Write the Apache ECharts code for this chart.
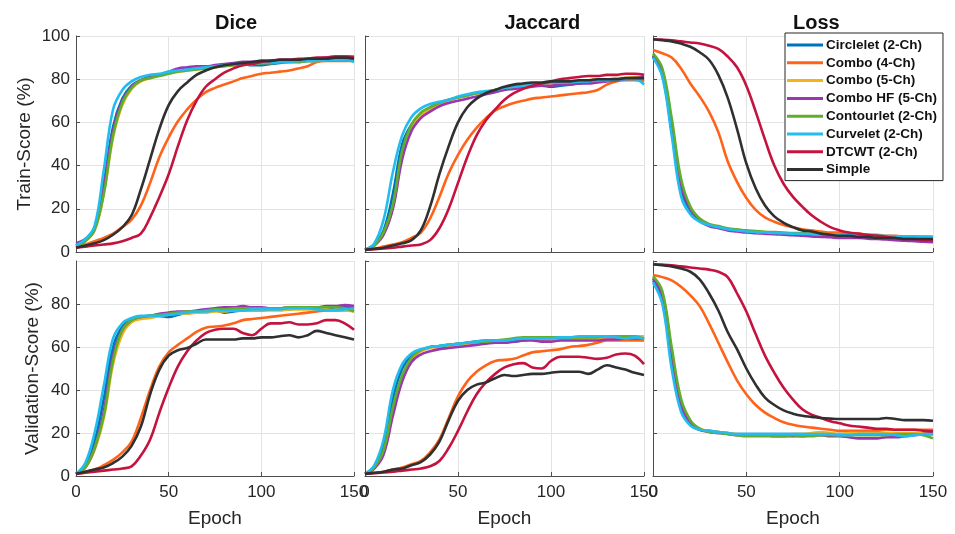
<!DOCTYPE html>
<html>
<head>
<meta charset="utf-8">
<script src="https://cdn.jsdelivr.net/npm/echarts@6/dist/echarts.min.js"></script>
<style>
html,body{margin:0;padding:0;background:#fff}
#chart{width:955px;height:534px}
</style>
</head>
<body>
<div id="chart"></div>
<script>
// epochs sampled every 5
var epochs = [0,5,10,15,20,25,30,35,40,45,50,55,60,65,70,75,80,85,90,95,100,105,110,115,120,125,130,135,140,145,150];

var methods = ['Circlelet (2-Ch)','Combo (4-Ch)','Combo (5-Ch)','Combo HF (5-Ch)','Contourlet (2-Ch)','Curvelet (2-Ch)','DTCWT (2-Ch)','Simple'];
var colors = ['#0072BD','#FF6319','#F5B31B','#9A36B0','#5FAE2E','#22BDEE','#C4133F','#303030'];
var colTitles = ['Dice','Jaccard','Loss'];
var rowNames = ['Train-Score (%)','Validation-Score (%)'];

// ---- Train: Dice
var trainDice_circlelet = [3,5.5,11,32,58,71,77,79.5,81,82,83,84,84.5,85,85.5,86,86.5,87,87,86.5,86.5,87,87.5,88,88,88.5,88.5,89,89,89,89];
var trainDice_combo4 = [2.5,3.5,5,6.5,8.5,11.5,15,21.5,32,44,53,60.5,66,70.5,74,76,77.5,79,80.5,81.5,82.5,83,83.5,84,85,86,88,88.5,88.5,88.5,88.5];
var trainDice_combo5 = [3,5,10,27,53,68,75.5,79,80.5,82,83,83.5,84,84.5,85,85.5,86,86.5,86.5,87,87.5,87.5,88,88,88,88.5,88.5,89,89,89,89];
var trainDice_comboHF = [4,6,11,30,56,70,76.5,79.5,81,82,83.5,85,85.5,86,86,86.5,87,87.5,88,88,88.5,88.5,89,89,89,89.5,89.5,90,90.5,90.5,90.5];
var trainDice_contourlet = [2.5,5,10,27,54,69,76,79.5,80.5,81.5,82.5,83.5,84,84.5,85,85.5,86,86.5,87,87,87.5,87.5,88,88,88,88.5,88.5,89,89,89,89];
var trainDice_curvelet = [3,6,12,38,66,75,79,81,82,82.5,83.5,84,84.5,85,85.5,86,86.5,87,87,87.5,87.5,88,88,88,88.5,88.5,88.5,89,89,89,88];
var trainDice_dtcwt = [2,2.5,3,3.5,4,5,6.5,8.5,16,25.5,36,49,61,70,76.5,80,83,85,86.5,87,88,88.5,89,89,89.5,89.5,90,90,90.5,90.5,90];
var trainDice_simple = [2,3,4,5.5,8,11.5,17,29,43,57,68,74.5,78.5,82,84,85.5,86.5,87,87.5,88,88.5,88.5,89,89,89,89.5,89.5,89.5,90,90,89.5];

// ---- Train: Jaccard
var trainJac_circlelet = [1,3.5,10,27,50,59,64,67,69,70.5,71.5,72.5,73.5,74,75,75.5,76,76.5,77,77,76.5,77,77.5,78,78.5,79,79.5,80,80,80,80];
var trainJac_combo4 = [1,1.5,2.5,3.5,4.5,6.5,9,15.5,25.5,36.5,45,52,57.5,62,65.5,67.5,69,70,71,71.5,72,72.5,73,73.5,74,75,77.5,79,79.5,79.5,79];
var trainJac_combo5 = [1,3,8.5,21,45,57.5,63.5,66,68.5,70,71.5,72.5,73.5,74,75,76,76.5,77,77.5,78,78,78.5,79,79,79.5,80,80,80.5,80.5,81,81];
var trainJac_comboHF = [1,3,8,20,43,56,62,65,67.5,69,70,71,72,73,74,75,75.5,76,76.5,77,77,77.5,77.5,78,78,78.5,79,79.5,80,80.5,81];
var trainJac_contourlet = [1,3,9,22,47,59,64.5,67,69,70.5,71.5,72.5,73.5,74,75,76,76.5,77,77.5,78,78.5,78.5,79,79,79.5,79.5,80,80,80.5,80.5,80];
var trainJac_curvelet = [1,4,15,37,54,62.5,66.5,68.5,69.5,70.5,72,73,74,74.5,75,76,76.5,77,77.5,78,78.5,78.5,78.5,79,79,79.5,79.5,80,80,80,77.5];
var trainJac_dtcwt = [1,1.3,1.6,2,2.5,3,3.5,5.5,11,20,32,44,54,61,66,70.5,73.5,75.5,77,78,79,80,80.5,81,81.5,81.5,82,82,82.5,82.5,82];
var trainJac_simple = [1,1.5,2,3,4,5.5,10,21,36,49,60,67,71,73.5,75,76.5,77.5,78,78.5,78.5,79,79,79,79.5,79.5,80,80,80,80.5,80.5,80.5];

// ---- Train: Loss
var trainLoss_circlelet = [90.5,82,56,29,19,14.5,12.5,11.5,10.5,10,9.5,9.2,9,8.8,8.6,8.4,8.2,8,7.9,7.8,7.7,7.6,7.5,7.4,7.3,7.2,7.1,7,7,6.9,6.8];
var trainLoss_combo4 = [93.5,92,90,85,78,72,65,55.5,42,32.5,25,19.5,16,14,12.5,11.5,10.5,10,9.5,9,9,8.5,8.5,8,8,7.5,7.5,7,7,7,7];
var trainLoss_combo5 = [91.5,84,60,32,20.5,15,12.5,11.5,10.5,10,9.5,9.3,9,8.8,8.6,8.4,8.2,8,7.8,7.6,7.5,7.4,7.3,7.2,7,7,6.8,6.7,6.5,6.5,6.5];
var trainLoss_comboHF = [91,83,58,31,20,14.5,12,11,10,9.5,9,8.7,8.5,8.2,8,7.8,7.5,7.2,7,6.8,6.5,6.5,6.5,6.2,6,5.8,5.5,5.2,5,4.8,4.5];
var trainLoss_contourlet = [92,85,62,34,21,15.5,13,12,11,10.5,10,9.7,9.4,9.2,9,8.8,8.7,8.5,8.4,8.2,8,7.9,7.8,7.6,7.5,7.3,7.2,7,7,6.9,6.8];
var trainLoss_curvelet = [90,81,54,26,17.5,14,12.5,11.5,10.5,10,9.5,9.2,9,8.8,8.7,8.5,8.4,8.3,8.2,8.1,8,7.9,7.7,7.6,7.5,7.4,7.3,7.2,7,7,7];
var trainLoss_dtcwt = [98.5,98.3,98,97.5,97,96.5,95.5,94,90.5,85.5,77,65,52,40,31.5,25.5,21,17,14,11.5,10,9,8.5,8,7.5,7,6.5,6,6,5.5,5.5];
var trainLoss_simple = [98.5,98,97.5,96.5,95,92.5,89,82,71.5,57,41,29.5,21.5,16.5,13.5,11.5,10,9.5,8.5,8,7.5,7.5,7,7,6.5,6.5,6.5,6,6,6,6];

// ---- Validation: Dice
var valDice_circlelet = [1,5,16,36,60,69.5,73,74,74.5,74.5,74,75,76,76.5,76.5,77,76,76.5,77,77,77,77.5,77.5,77.5,78,78,78,78,78.5,78.5,78];
var valDice_combo4 = [1,2,3,5,7.5,11,16,27,40,51,57.5,61,64,67,69,69.5,70,71,72.5,73,73.5,74,74.5,75,75.5,76,76.5,77,77,77,77];
var valDice_combo5 = [1,4,12,27,52,66,71.5,73,73.5,74.5,75,75.5,75.5,76,76,76.5,76.5,77,77,77,77,77,77,77.5,77.5,77.5,77.5,77.5,77,77,76.5];
var valDice_comboHF = [1,4,13,30,56,68,72.5,74,74.5,75.5,76,76.5,76.5,77,77.5,78,78.5,78.5,79,78.5,78.5,78,78,78.5,78.5,78.5,78.5,79,79,79.5,79];
var valDice_contourlet = [1,4,13,28,54,68,72.5,74,74.5,75,75.5,76,76.5,76.5,77,77.5,77.5,78,78,78,78,78,78,78.5,78.5,78.5,78.5,78.5,78.5,78,76.5];
var valDice_curvelet = [1,6,20,42,64,71,73.5,74.5,74.5,74.5,75,75.5,76,76.5,76.5,77,77,77,77,77.5,77.5,77.5,77.5,78,78,78,77.5,77,77,77.5,78];
var valDice_dtcwt = [1,1.5,2,2.5,3,3.5,4.5,9.5,17,29.5,41,51,58,63,66.5,68,68.5,68.5,66.5,65.5,68.5,71,71,71.5,70.5,70.5,71,72.5,72.5,71,68];
var valDice_simple = [1,2,3,4,6,9,14,23,38,49.5,56,58.5,59.5,61.5,63.5,63.5,63.5,63.5,64,64,64.5,64.5,65,65.5,64.5,65.5,67.5,66.5,65.5,64.5,63.5];

// ---- Validation: Jaccard
var valJac_circlelet = [1,4.5,14,36,50,56,58.5,60,60.5,61,61.5,62,62.5,63,63,63,62.5,63,63.5,63.5,64,64,64,64.5,64.5,65,65,64.5,64.5,64.5,64];
var valJac_combo4 = [1,1.5,2,3,4,5.5,7,11,17,27,37,44,48.5,51.5,53.5,54,54.5,56,57.5,58,58.5,59,60,60.5,61,62,63,63,63,63,63];
var valJac_combo5 = [1,4,11,30,46,54,58,59.5,60,60.5,61,61.5,62,62.5,62.5,63,63,63.5,63.5,63.5,63.5,63.5,63.5,64,64,64,64.5,64.5,65,65,65];
var valJac_comboHF = [1,3.5,10,28,44,53,56.5,58,59,59.5,60,60.5,61,61.5,62,62,62.5,63,63,62.5,62.5,63,63,63,63,63,63.5,63.5,64,64,64];
var valJac_contourlet = [1,4,12,32,47,55,58.5,60,60.5,61,61.5,62,62.5,62.5,63,63.5,64,64.5,64.5,64.5,64.5,64.5,64.5,64.5,64.5,64.5,65,65,65,65,63.5];
var valJac_curvelet = [1,5,17,40,52,57,59,60,60.5,61,61.5,62,62.5,63,63,63,63.5,64,64,64,64,64.5,64.5,65,65,65,65,64.5,64,64.5,64];
var valJac_dtcwt = [1,1.3,1.6,2,2.5,3,3.5,4.5,7,13,21,30,38,43.5,47.5,50.5,52,52.5,50.5,50,53.5,55.5,55.5,55.5,55,54.5,55,56.5,57,56,52];
var valJac_simple = [1,1.5,2,3,3.5,5,6.5,10,16,26,35,40,42.5,43.5,45.5,47,46.5,47,47.5,47.5,48,48.5,48.5,48.5,47.5,49.5,51.5,50.5,49.5,48,47];

// ---- Validation: Loss
var valLoss_circlelet = [91,82,53,31,24,21.5,21,20.5,20,19.5,19.5,19.5,19.5,19.5,19.5,19.5,19.5,19.5,19.5,19.5,19.5,19.5,19.5,19.5,19.5,19.5,19.5,19.5,19.5,19.5,19.5];
var valLoss_combo4 = [93.5,92.5,91,88,84,79,71,62,53,44.5,38,33,29.5,27,25,23.8,23,22.5,22,21.5,21,21,21,21,21,21.5,21.5,21.5,21.5,21.5,21.5];
var valLoss_combo5 = [92,85,58,34,25,22,21,20.5,20,19.5,19,19,19,19,19,19.5,19.5,20,20.5,20,19.5,20,20,20,20,20,20,20,20,20,20];
var valLoss_comboHF = [92,84,57,33,24.5,21.5,20.5,20,19.5,19,19,19,19,18.5,18.5,18.5,18.5,19,19,18.5,18.5,18,17.5,17.5,17.5,18,18,18.5,19,19.5,20];
var valLoss_contourlet = [93,86,60,36,26,22,20.5,20,19.5,19,18.5,18.5,18.5,18.5,18.5,19,18.5,18.5,19,19,19,19,19,19,19,19,19.5,19.5,19.5,19,17.5];
var valLoss_curvelet = [90,80,50,30,23.5,21.5,21,20.5,20,19.5,19.5,19.5,19.5,19.5,19.5,19.5,19.5,19.5,19.5,19.5,19,19,19.5,19.5,19.5,19.5,19,18.5,19,19.5,19.5];
var valLoss_dtcwt = [98.5,98.3,98,97.5,97,96.5,96,95,92.5,85,76.5,66,56,48,41,35.5,31,28.5,27,25.5,24.5,23.5,23,22.5,22,22,21.5,21.5,21.5,21,20.8];
var valLoss_simple = [98.5,98,97.5,96.5,95,91.5,85,77,67,59,50,42.5,36.5,33,30.5,29,28,27.5,27,26.7,26.5,26.5,26.5,26.5,26.5,27,26.5,26,26,26,25.7];

var panels = [
  [trainDice_circlelet,trainDice_combo4,trainDice_combo5,trainDice_comboHF,trainDice_contourlet,trainDice_curvelet,trainDice_dtcwt,trainDice_simple],
  [trainJac_circlelet,trainJac_combo4,trainJac_combo5,trainJac_comboHF,trainJac_contourlet,trainJac_curvelet,trainJac_dtcwt,trainJac_simple],
  [trainLoss_circlelet,trainLoss_combo4,trainLoss_combo5,trainLoss_comboHF,trainLoss_contourlet,trainLoss_curvelet,trainLoss_dtcwt,trainLoss_simple],
  [valDice_circlelet,valDice_combo4,valDice_combo5,valDice_comboHF,valDice_contourlet,valDice_curvelet,valDice_dtcwt,valDice_simple],
  [valJac_circlelet,valJac_combo4,valJac_combo5,valJac_comboHF,valJac_contourlet,valJac_curvelet,valJac_dtcwt,valJac_simple],
  [valLoss_circlelet,valLoss_combo4,valLoss_combo5,valLoss_comboHF,valLoss_contourlet,valLoss_curvelet,valLoss_dtcwt,valLoss_simple]
];

var chart = echarts.init(document.getElementById('chart'));

var lefts = [76, 365, 653];
var widths = [278, 279, 280];
var tops = [36, 261];
var heights = [216, 215];
var axisCol = '#4d4d4d';
var textCol = '#262626';
var gridCol = '#e3e3e3';
var font = 'Arial, "Liberation Sans", Helvetica, sans-serif';

var grids = [], xAxes = [], yAxes = [], series = [], graphics = [];

for (var p = 0; p < 6; p++) {
  var r = Math.floor(p / 3), c = p % 3;
  grids.push({left: lefts[c], top: tops[r], width: widths[c], height: heights[r]});
  xAxes.push({
    type: 'value', gridIndex: p, min: 0, max: 150, interval: 50,
    name: r === 1 ? 'Epoch' : '', nameLocation: 'middle', nameGap: 33,
    nameTextStyle: {fontSize: 19, color: textCol, fontFamily: font},
    axisLine: {show: true, lineStyle: {color: axisCol, width: 1}},
    axisTick: {show: true, inside: true, length: 4, lineStyle: {color: axisCol}},
    axisLabel: {show: r === 1, fontSize: 17, color: textCol, fontFamily: font, margin: 8},
    splitLine: {show: true, lineStyle: {color: gridCol, width: 1}}
  });
  yAxes.push({
    type: 'value', gridIndex: p, min: 0, max: 100, interval: 20,
    name: c === 0 ? rowNames[r] : '', nameLocation: 'middle', nameGap: r === 0 ? 42 : 34,
    nameTextStyle: {fontSize: 19, color: textCol, fontFamily: font},
    axisLine: {show: true, lineStyle: {color: axisCol, width: 1}},
    axisTick: {show: true, inside: true, length: 4, lineStyle: {color: axisCol}},
    axisLabel: {show: c === 0, fontSize: 17, color: textCol, fontFamily: font, margin: 6, showMaxLabel: r === 0},
    splitLine: {show: true, lineStyle: {color: gridCol, width: 1}}
  });
  for (var m = 0; m < methods.length; m++) {
    var vals = panels[p][m];
    series.push({
      name: methods[m], type: 'line', xAxisIndex: p, yAxisIndex: p,
      data: epochs.map(function (e, k) { return [e, vals[k]]; }),
      smooth: 0.4, showSymbol: false, symbol: 'none',
      lineStyle: {color: colors[m], width: 2.6},
      itemStyle: {color: colors[m]},
      z: 2 + m
    });
  }
}

for (var t = 0; t < 3; t++) {
  graphics.push({
    type: 'text', left: lefts[t] + widths[t] / 2, top: 13,
    style: {text: colTitles[t], font: 'bold 20px ' + font, fill: '#111', textAlign: 'center'}
  });
}

var option = {
  animation: false,
  backgroundColor: '#fff',
  grid: grids,
  xAxis: xAxes,
  yAxis: yAxes,
  legend: {
    data: methods, orient: 'vertical', left: 785, top: 33,
    padding: [5, 6, 4, 2], itemGap: 3.8, itemWidth: 36, itemHeight: 3, icon: 'rect',
    backgroundColor: '#fff', borderColor: '#262626', borderWidth: 1,
    textStyle: {fontSize: 13.5, fontWeight: 'bold', color: '#111', fontFamily: font, padding: [0, 0, 0, -2]},
    z: 20
  },
  graphic: graphics,
  series: series
};

chart.setOption(option);
</script>
</body>
</html>
